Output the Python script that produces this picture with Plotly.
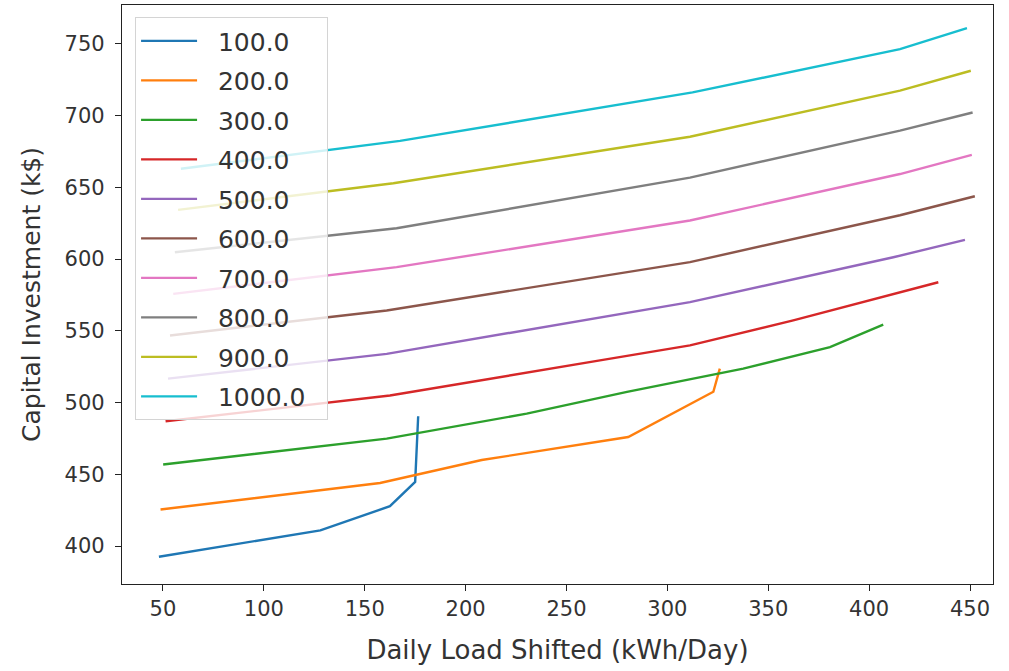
import plotly.graph_objects as go

labels = ["100.0", "200.0", "300.0", "400.0", "500.0", "600.0", "700.0", "800.0", "900.0", "1000.0"]
colors = ["#1f77b4", "#ff7f0e", "#2ca02c", "#d62728", "#9467bd",
          "#8c564b", "#e377c2", "#7f7f7f", "#bcbd22", "#17becf"]

x_100 = [48.0, 128.0, 162.5, 175.0, 176.5]
y_100 = [392.6, 411.0, 427.8, 444.7, 490.5]

x_200 = [48.8, 157.6, 208.0, 280.6, 322.8, 326.0]
y_200 = [425.5, 444.0, 460.0, 476.0, 507.6, 523.7]

x_300 = [50.1, 160.9, 230.3, 280.0, 337.6, 380.6, 407.0]
y_300 = [456.9, 474.9, 492.3, 507.5, 523.7, 538.7, 554.3]

x_400 = [51.3, 162.5, 266.6, 311.2, 362.4, 403.7, 434.3]
y_400 = [487.0, 505.0, 529.4, 539.9, 557.3, 572.4, 583.9]

x_500 = [52.5, 160.9, 311.2, 412.0, 447.5]
y_500 = [516.7, 534.0, 570.0, 601.3, 613.4]

x_600 = [53.5, 160.9, 311.2, 415.3, 452.4]
y_600 = [546.8, 564.2, 597.9, 630.6, 643.8]

x_700 = [55.1, 165.8, 311.2, 415.3, 450.9]
y_700 = [575.8, 594.4, 626.9, 659.3, 672.6]

x_800 = [55.9, 165.8, 311.2, 415.3, 451.3]
y_800 = [604.8, 621.5, 656.8, 689.5, 702.2]

x_900 = [57.5, 164.2, 311.2, 415.3, 450.4]
y_900 = [634.3, 652.9, 685.3, 717.4, 731.3]

x_1000 = [58.9, 167.5, 312.5, 415.3, 448.5]
y_1000 = [663.0, 682.4, 716.2, 746.3, 761.0]

xs = [x_100, x_200, x_300, x_400, x_500, x_600, x_700, x_800, x_900, x_1000]
ys = [y_100, y_200, y_300, y_400, y_500, y_600, y_700, y_800, y_900, y_1000]

x_ticks = [50, 100, 150, 200, 250, 300, 350, 400, 450]
y_ticks = [400, 450, 500, 550, 600, 650, 700, 750]

NB = "\u00a0"

fig = go.Figure()
for lab, col, xv, yv in zip(labels, colors, xs, ys):
    fig.add_trace(go.Scatter(x=xv, y=yv, mode="lines", name=NB * 2 + lab + NB * 2,
                             legendgroup=lab, line=dict(color=col, width=2.4)))

font_family = "DejaVu Sans"
txt_color = "#333333"
fig.update_layout(
    width=1009, height=671,
    margin=dict(l=122, r=16, t=5, b=87),
    paper_bgcolor="white", plot_bgcolor="white",
    font=dict(family=font_family, size=21, color=txt_color),
    showlegend=True,
    legend=dict(x=0.015, y=0.979, xanchor="left", yanchor="top",
                bgcolor="rgba(255,255,255,0.8)", bordercolor="#d4d4d4",
                borderwidth=1, font=dict(size=25, family=font_family, color=txt_color),
                tracegroupgap=4, itemwidth=56),
)
fig.update_xaxes(range=[29.7, 461.4], tickvals=x_ticks, ticktext=[str(v) for v in x_ticks],
                 showgrid=False, zeroline=False, showline=True, linecolor="#222222",
                 linewidth=1.3, mirror=True, ticks="outside", ticklen=6, tickwidth=1.3,
                 tickcolor="#222222", tickfont=dict(size=21, color=txt_color),
                 title=dict(text="Daily Load Shifted (kWh/Day)", font=dict(size=26, color=txt_color),
                            standoff=20))
fig.update_yaxes(range=[373.6, 777.1], tickvals=y_ticks, ticktext=[str(v) for v in y_ticks],
                 showgrid=False, zeroline=False, showline=True, linecolor="#222222",
                 linewidth=1.3, mirror=True, ticks="outside", ticklen=6, tickwidth=1.3,
                 tickcolor="#222222", tickfont=dict(size=21, color=txt_color),
                 ticklabelstandoff=6,
                 title=dict(text="Capital Investment (k$)", font=dict(size=25, color=txt_color),
                            standoff=16))

fig.write_html("out.html")
